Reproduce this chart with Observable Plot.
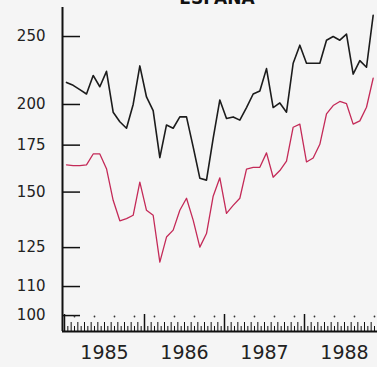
<!DOCTYPE html>
<html><head><meta charset="utf-8">
<script src="https://cdn.jsdelivr.net/npm/d3@7"></script>
<script src="https://cdn.jsdelivr.net/npm/@observablehq/plot@0.6"></script>
<style>
html,body{margin:0;padding:0;background:#f5f5f5;width:377px;height:367px;overflow:hidden;}
#wrap{position:relative;width:377px;height:367px;}
#title{position:absolute;top:-12px;left:167px;width:100px;text-align:center;font:bold 17px "DejaVu Sans",sans-serif;color:#111;z-index:2;}
</style></head><body><div id="wrap"><div id="title">ESPAÑA</div></div>
<script>
// Monthly series, Jan 1985 – Nov 1988
const startYear = 1985;
const blackSeries = [215,213,210,207,220,212,223,195,189,185,200,227,
  205,196,168,187,185,192,192,174,157,156,179,203,
  191,192,190,198,207,209,225,198,201,195,229,243,
  229,229,229,247,250,247,252,221,231,226,268];
const redSeries = [164,163.6,163.6,164,170,170,162,146,136.5,137.5,139,155,
  141.3,139,119.2,129.4,132.4,141.3,147,136.8,125.2,130.9,148,157.2,
  139.9,143.6,147,161.8,162.7,162.7,170.6,157.5,161,166,185.6,187.5,
  165.6,167.8,175.5,193.9,199.3,202,200.5,187.5,189.5,198.2,218];
const yTicks = [100, 110, 125, 150, 175, 200, 250];
const yearLabels = [1985, 1986, 1987, 1988];

const toT = (k) => startYear + (k + 0.3) / 12;
const rows = (arr, s) => arr.map((v, k) => ({t: toT(k), v, s}));
const data = [...rows(blackSeries, "black"), ...rows(redSeries, "red")];

const xDomain = [1984.975, 1988.9125];
const yDomain = [94.9, 275];
const months = d3.range(0, 48).map(m => startYear + m / 12);
const monthTicks = months.filter((d, m) => m % 12 !== 0);
const halfTicks = months.map(d => d + 1 / 24).filter(d => d < xDomain[1]);
const yearTicks = months.filter((d, m) => m % 12 === 0);
const dotTicks = d3.range(0, 16).map(j => startYear + (1.5 + 3 * j) / 12).filter(d => d < xDomain[1]);
const blank = () => "";

const chart = Plot.plot({
  width: 377, height: 367,
  marginLeft: 62, marginRight: 0, marginTop: 7, marginBottom: 36,
  style: {background: "transparent", fontFamily: "DejaVu Sans, sans-serif", color: "#222", overflow: "visible"},
  x: {domain: xDomain, axis: null},
  y: {type: "log", domain: yDomain, axis: null},
  marks: [
    Plot.axisY({ticks: yTicks, label: null, tickSize: -18, tickPadding: 35, tickFormat: d => String(d), fontSize: 15, strokeWidth: 1.5, stroke: "#111"}),
    Plot.axisX({ticks: monthTicks, label: null, tickSize: -9, tickFormat: blank, stroke: "#111"}),
    Plot.axisX({ticks: halfTicks, label: null, tickSize: -5, tickFormat: blank, stroke: "#111"}),
    Plot.axisX({ticks: yearTicks, label: null, tickSize: -17, tickFormat: blank, strokeWidth: 1.5, stroke: "#111"}),
    Plot.dot(dotTicks, {x: d => d, frameAnchor: "bottom", dy: -15, r: 0.9, fill: "#333", stroke: null}),
    Plot.axisX({ticks: yearLabels.map(y => y + 0.5), label: null, tickSize: 0, tickPadding: 14, tickFormat: d => String(Math.floor(d)), fontSize: 19}),
    Plot.ruleX([xDomain[0]], {stroke: "#111", strokeWidth: 2}),
    Plot.ruleY([yDomain[0]], {stroke: "#111", strokeWidth: 2}),
    Plot.line(data, {x: "t", y: "v", z: "s", stroke: d => d.s === "black" ? "#1c1c1c" : "#c42a58", strokeWidth: d => d.s === "black" ? 1.6 : 1.3})
  ]
});
document.getElementById("wrap").appendChild(chart);
</script>
</body></html>
